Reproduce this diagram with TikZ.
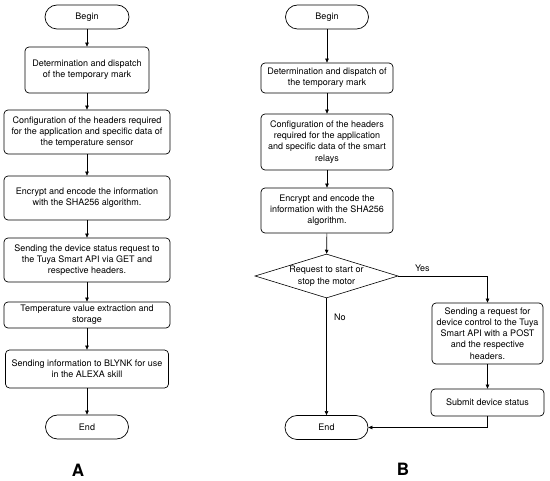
\documentclass[tikz,border=0pt]{standalone}
\usepackage{fontspec}
\setmainfont{TeX Gyre Heros}
\usetikzlibrary{shapes.geometric,arrows.meta}
\tikzset{
  txt/.style={font=\fontsize{9}{11.2}\selectfont},
  proc/.style={draw, line width=0.7pt, rounded corners=4pt, align=center, inner sep=1pt, txt},
  term/.style={draw, line width=0.7pt, rounded corners=12pt, minimum height=24pt, align=center, txt},
  dec/.style={draw, line width=0.6pt, diamond, aspect=3.25, inner sep=0pt, align=center, font=\fontsize{9}{12}\selectfont},
  flow/.style={draw, line width=0.6pt, -{Triangle[length=4pt,width=3.5pt]}},
  lbl/.style={txt},
  big/.style={font=\fontsize{17}{20}\selectfont\bfseries}
}
\begin{document}
\begin{tikzpicture}[x=1pt,y=-1pt]
\useasboundingbox (0,0) rectangle (550,481);
% ---- A ----
\node[term, minimum width=84pt] (a0) at (87,17) {Begin};
\node[proc, minimum width=124pt, minimum height=46pt] (a1) at (87,70) {Determination and dispatch\\of the temporary mark};
\node[proc, minimum width=166pt, minimum height=44pt] (a2) at (87,132) {Configuration of the headers required\\for the application and specific data of\\the temperature sensor};
\node[proc, minimum width=166pt, minimum height=44pt] (a3) at (87,198) {Encrypt and encode the information\\with the SHA256 algorithm.};
\node[proc, minimum width=166pt, minimum height=44pt] (a4) at (87,260) {Sending the device status request to\\the Tuya Smart API via GET and\\respective headers.};
\node[proc, minimum width=166pt, minimum height=26pt] (a5) at (87,315) {Temperature value extraction and\\storage};
\node[proc, minimum width=163pt, minimum height=38pt] (a6) at (87,369) {Sending information to BLYNK for use\\in the ALEXA skill};
\node[term, minimum width=83pt] (a7) at (87,427) {End};
\node[big] (la) at (78,470) {A};
\draw[flow] (a0) -- (a1);
\draw[flow] (a1) -- (a2);
\draw[flow] (a2) -- (a3);
\draw[flow] (a3) -- (a4);
\draw[flow] (a4) -- (a5);
\draw[flow] (a5) -- (a6);
\draw[flow] (a6) -- (a7);
% ---- B ----
\node[term, minimum width=83pt] (b0) at (327,17) {Begin};
\node[proc, minimum width=132pt, minimum height=30pt] (b1) at (327,78) {Determination and dispatch of\\the temporary mark};
\node[proc, minimum width=132pt, minimum height=56pt] (b2) at (327,142) {Configuration of the headers\\required for the application\\and specific data of the smart\\relays};
\node[proc, minimum width=132pt, minimum height=45pt] (b3) at (327,210.5) {Encrypt and encode the\\information with the SHA256\\algorithm.};
\node[dec, minimum width=143pt, minimum height=44pt] (b4) at (326.5,276) {Request to start or\\stop the motor};
\node[proc, minimum width=111pt, minimum height=61pt] (b5) at (487.5,333.5) {Sending a request for\\device control to the Tuya\\Smart API with a POST\\and the respective\\headers.};
\node[proc, minimum width=113pt, minimum height=27pt] (b6) at (487.5,402.5) {Submit device status};
\node[term, minimum width=83pt] (b7) at (326.5,427.5) {End};
\node[big] (lb) at (403,469) {B};
\draw[flow] (b0) -- (b1);
\draw[flow] (b1) -- (b2);
\draw[flow] (b2) -- (b3);
\draw[flow] (b3) -- (b4);
\draw[flow] (b4.east) -| node[lbl, pos=0.135, above=1pt] {Yes} (b5.north);
\draw[flow] (b4.south) -- node[lbl, pos=0.16, right=4pt] {No} (b7.north);
\draw[flow] (b5) -- (b6);
\draw[flow] (b6.south) |- (b7.east);
\end{tikzpicture}
\end{document}
